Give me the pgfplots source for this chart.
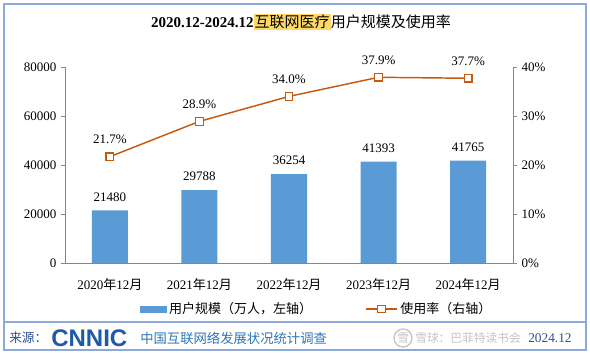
\documentclass[border=0pt]{standalone}
\usepackage{pgfplots}
\pgfplotsset{compat=1.18}
\usepackage{fontspec}
\setmainfont{Liberation Serif}
\newfontfamily\cjk{Noto Sans CJK SC}
\newfontfamily\logofont{Liberation Sans}
\definecolor{barblue}{HTML}{5B9BD5}
\definecolor{lineor}{HTML}{C55A11}
\definecolor{axgray}{HTML}{868686}
\definecolor{frameblue}{HTML}{8EAADB}
\definecolor{hl}{HTML}{FFD966}
\definecolor{srcblue}{HTML}{2E75B6}
\definecolor{logoblue}{HTML}{1F5AA6}
\definecolor{darkblue}{HTML}{2F4F8F}
\definecolor{wmgray}{HTML}{C4C4C4}
\begin{document}
\begin{tikzpicture}[x=0.75pt,y=0.75pt]
\useasboundingbox (0,0) rectangle (590,353);
% frame
\draw[frameblue, line width=0.9pt] (4,3) rectangle (586,349);
\draw[frameblue, line width=0.9pt] (4,31) -- (586,31);
% title
\node[font=\fontsize{11.25}{13}\selectfont, inner sep=0] at (301,331)
 {\textbf{2020.12-2024.12}{\setlength{\fboxsep}{0.8pt}\colorbox{hl}{\cjk 互联网医疗}}{\cjk 用户规模及使用率}};
% bars, left axis
\begin{axis}[
 at={(48.75pt,67.5pt)}, anchor=south west,
 scale only axis, width=336pt, height=147pt,
 xmin=-0.5, xmax=4.5, ymin=0, ymax=80000,
 axis y line*=left, axis x line*=bottom,
 axis line style={-, draw=axgray, line width=0.6pt},
 xtick={0,1,2,3,4},
 xticklabels={2020{\cjk 年}12{\cjk 月},2021{\cjk 年}12{\cjk 月},2022{\cjk 年}12{\cjk 月},2023{\cjk 年}12{\cjk 月},2024{\cjk 年}12{\cjk 月}},
 x tick style={draw=none},
 ytick={0,20000,40000,60000,80000},
 y tick style={draw=axgray, line width=0.6pt},
 tick align=outside, major tick length=3pt,
 scaled y ticks=false,
 /pgf/number format/1000 sep={},
 /pgf/number format/assume math mode=true,
 tick label style={font=\fontsize{9.75}{11}\selectfont, text=black},
 xticklabel style={yshift=-5pt},
 ybar, bar width=27pt,
 nodes near coords,
 nodes near coords style={font=\fontsize{9.75}{11}\selectfont, anchor=base, inner sep=0pt, yshift=7pt, text=black},
 clip=false,
]
\addplot[fill=barblue, draw=none] coordinates {(0,21480) (1,29788) (2,36254) (3,41393) (4,41765)};
\end{axis}
% line, right axis
\begin{axis}[
 at={(48.75pt,67.5pt)}, anchor=south west,
 scale only axis, width=336pt, height=147pt,
 xmin=-0.5, xmax=4.5, ymin=0, ymax=40,
 axis y line*=right, axis x line=none,
 axis line style={-, draw=axgray, line width=0.6pt},
 ytick={0,10,20,30,40},
 yticklabel={\pgfmathprintnumber{\tick}\%},
 y tick style={draw=axgray, line width=0.6pt},
 tick align=outside, major tick length=3pt,
 /pgf/number format/assume math mode=true,
 tick label style={font=\fontsize{9.75}{11}\selectfont, text=black},
 nodes near coords={\pgfmathprintnumber[fixed,fixed zerofill,precision=1]{\pgfplotspointmeta}\%},
 nodes near coords style={font=\fontsize{9.75}{11}\selectfont, anchor=base, inner sep=0pt, yshift=9.75pt, text=black},
 clip=false,
 legend columns=2,
 legend style={at={(0.5625,-0.235)}, anchor=center, draw=none, fill=none,
   font=\fontsize{9.75}{11}\selectfont, inner sep=0pt,
   /tikz/every even column/.append style={column sep=38pt}},
]
\addlegendimage{legend image code/.code={\fill[barblue] (0pt,-2.25pt) rectangle (19.5pt,2.25pt);}}
\addlegendentry{\cjk 用户规模（万人，左轴）}
\addplot[lineor, line width=1.1pt, mark=square*, mark size=2.8pt, mark options={fill=white, line width=0.9pt},
  legend image code/.code={\draw[mark repeat=2,mark phase=2] plot coordinates {(0pt,0pt) (11.5pt,0pt) (23pt,0pt)};}]
  coordinates {(0,21.7) (1,28.9) (2,34.0) (3,37.9) (4,37.7)};
\addlegendentry{\cjk 使用率（右轴）}
\end{axis}
% footer
\node[anchor=west, inner sep=0, text=darkblue, font=\fontsize{9.5}{11}\selectfont] at (9,15) {\cjk 来源：};
\node[anchor=west, inner sep=0, text=logoblue, font=\logofont\bfseries\fontsize{18}{18}\selectfont] at (51,15) {CNNIC};
\node[anchor=west, inner sep=0, text=srcblue, font=\fontsize{10}{12}\selectfont] at (140,15) {\cjk 中国互联网络发展状况统计调查};
\draw[wmgray, line width=1pt] (403,15) circle (9);
\node[anchor=center, inner sep=0, text=wmgray, font=\fontsize{9}{10}\selectfont] at (403,15) {\cjk 雪};
\node[anchor=west, inner sep=0, text=wmgray, font=\fontsize{8.8}{10}\selectfont] at (415,15) {\cjk 雪球：巴菲特读书会};
\node[anchor=west, inner sep=0, text=darkblue, font=\fontsize{10}{12}\selectfont] at (528,15) {2024.12};
\end{tikzpicture}
\end{document}
